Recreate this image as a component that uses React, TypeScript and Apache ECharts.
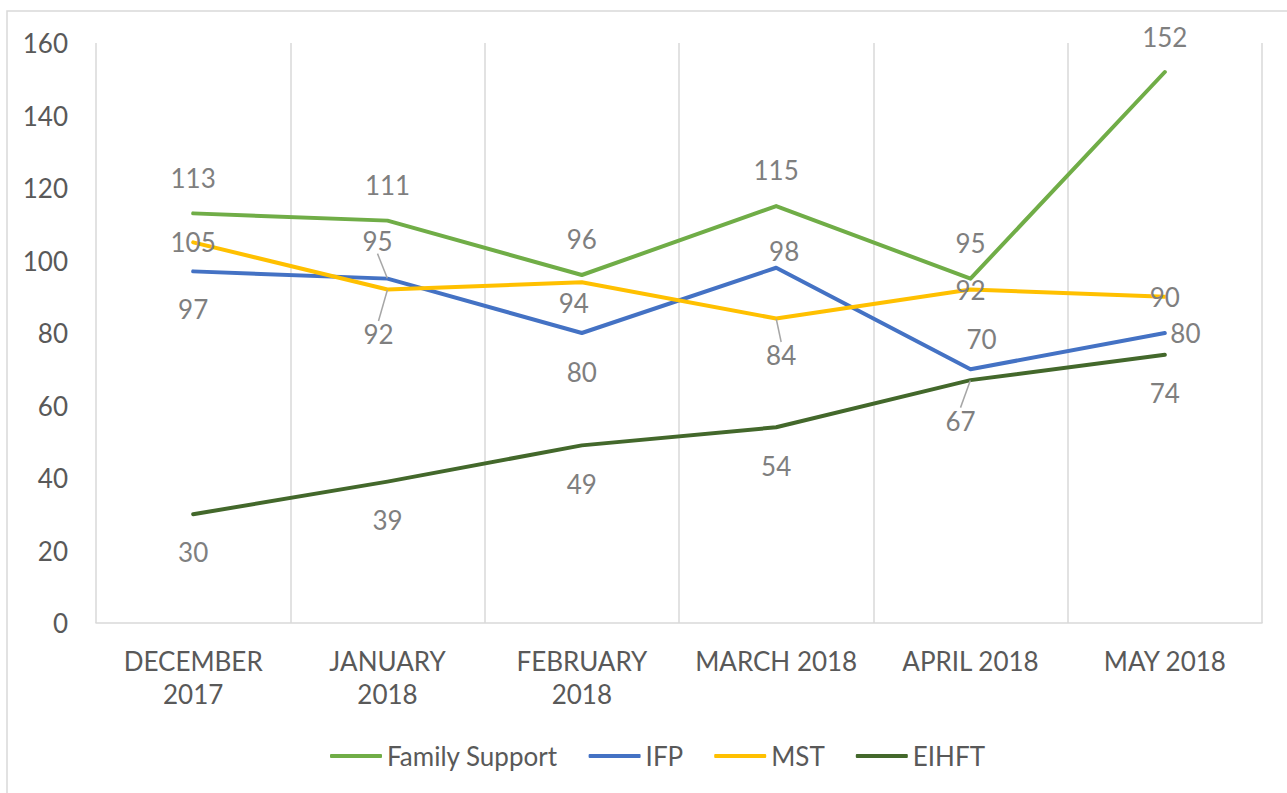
import React, { useEffect, useRef } from "react";
import * as echarts from "echarts";

const categories = [
  "DECEMBER 2017",
  "JANUARY 2018",
  "FEBRUARY 2018",
  "MARCH 2018",
  "APRIL 2018",
  "MAY 2018",
];
const seriesNames = ["Family Support", "IFP", "MST", "EIHFT"];
const familySupport = [113, 111, 96, 115, 95, 152];
const ifp = [97, 95, 80, 98, 70, 80];
const mst = [105, 92, 94, 84, 92, 90];
const eihft = [30, 39, 49, 54, 67, 74];
const yMin = 0;
const yMax = 160;
const yInterval = 20;

type LabelSpec = [string, number, number, boolean?, number?];
// [position, distance, dx, leader line, dy]
const fsLabels: LabelSpec[] = [
  ["top", 22, 0],
  ["top", 22, 0],
  ["top", 23, 0],
  ["top", 23, 0],
  ["top", 22, 0],
  ["top", 22, 0],
];
const ifpLabels: LabelSpec[] = [
  ["bottom", 24, 0],
  ["inside", 0, -10, true, -38],
  ["bottom", 25, 0],
  ["top", 3, 8],
  ["top", 17, 11],
  ["right", 5, 0],
];
const mstLabels: LabelSpec[] = [
  ["inside", 0, 0],
  ["bottom", 31, -9, true],
  ["bottom", 7, -8],
  ["bottom", 23, 5, true],
  ["inside", 0, 0],
  ["inside", 0, 0],
];
const eihftLabels: LabelSpec[] = [
  ["bottom", 24, 0],
  ["bottom", 25, 0],
  ["bottom", 25, 0],
  ["bottom", 25, 0],
  ["bottom", 27, -10, true],
  ["bottom", 25, 0],
];

const colors = ["#70AD47", "#4472C4", "#FFC000", "#43682B"];
const FONT = "Lato, 'Open Sans', sans-serif";
const AXIS_TEXT = "#595959";
const LABEL_TEXT = "#7F7F7F";
const GRID_LINE = "#D9D9D9";
const FONT_SIZE = 26;

function buildData(values: number[], specs: LabelSpec[]) {
  return values.map((v, i) => {
    const [pos, dist, , leader] = specs[i];
    return {
      value: v,
      label: {
        position: pos,
        distance: dist,
      },
      labelLine: {
        show: !!leader,
        showAbove: true,
        length2: 0,
        minTurnAngle: 0,
        lineStyle: { color: "#A6A6A6", width: 1.5 },
      },
    };
  });
}

export default function App() {
  const ref = useRef<HTMLDivElement>(null);

  useEffect(() => {
    if (!ref.current) return;
    const chart = echarts.init(ref.current, undefined, { renderer: "svg" });
    const allValues = [familySupport, ifp, mst, eihft];
    const allLabels = [fsLabels, ifpLabels, mstLabels, eihftLabels];

    chart.setOption({
      animation: false,
      backgroundColor: "#FFFFFF",
      color: colors,
      textStyle: { fontFamily: FONT },
      graphic: [
        {
          type: "rect",
          shape: { x: 7, y: 11, width: 1320, height: 820 },
          style: { fill: "none", stroke: GRID_LINE, lineWidth: 1.5 },
          silent: true,
          z: -1,
        },
      ],
      grid: { left: 96, right: 25, top: 43, bottom: 170 },
      legend: {
        left: 325,
        top: 738,
        icon: "roundRect",
        itemWidth: 52,
        itemHeight: 4,
        itemGap: 31,
        data: seriesNames,
        textStyle: { color: AXIS_TEXT, fontSize: FONT_SIZE, fontFamily: FONT },
      },
      xAxis: {
        type: "category",
        data: categories,
        boundaryGap: true,
        axisLine: { show: true, lineStyle: { color: GRID_LINE, width: 1.5 } },
        axisTick: { show: false },
        splitLine: { show: true, lineStyle: { color: GRID_LINE, width: 1.5 } },
        axisLabel: {
          color: AXIS_TEXT,
          fontSize: FONT_SIZE,
          fontFamily: FONT,
          margin: 21,
          lineHeight: 33,
          interval: 0,
          formatter: (v: string) => (v.length > 11 ? v.replace(" ", "\n") : v),
        },
      },
      yAxis: {
        type: "value",
        min: yMin,
        max: yMax,
        interval: yInterval,
        axisLine: { show: false },
        axisTick: { show: false },
        splitLine: { show: false },
        axisLabel: {
          color: AXIS_TEXT,
          fontSize: FONT_SIZE,
          fontFamily: FONT,
          margin: 28,
        },
      },
      series: seriesNames.map((name, si) => ({
        name,
        type: "line",
        data: buildData(allValues[si], allLabels[si]),
        symbol: "circle",
        symbolSize: 1,
        showSymbol: true,
        itemStyle: { color: colors[si] },
        lineStyle: { color: colors[si], width: 4, cap: "round", join: "round" },
        label: {
          show: true,
          color: LABEL_TEXT,
          fontSize: FONT_SIZE,
          fontFamily: FONT,
        },
        labelLine: { show: false },
        labelLayout: (params: any) => {
          const spec = allLabels[si][params.dataIndex];
          return { dx: spec[2], dy: spec[4] || 0 };
        },
        emphasis: { disabled: true },
        z: 2 + si,
      })),
    });

    return () => chart.dispose();
  }, []);

  return (
    <div
      ref={ref}
      style={{ position: "absolute", left: 0, top: 0, width: 1287, height: 793 }}
    />
  );
}
